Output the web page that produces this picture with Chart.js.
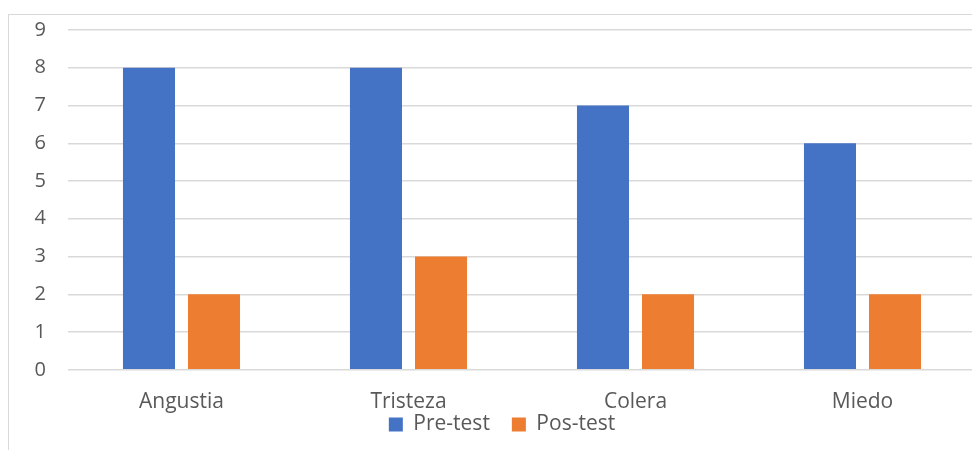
<!DOCTYPE html>
<html><head><meta charset="utf-8">
<script src="https://cdn.jsdelivr.net/npm/chart.js@4/dist/chart.umd.min.js"></script>
<style>
html,body{margin:0;padding:0;background:#fff;overflow:hidden;width:972px;height:450px;}
#frame{position:absolute;left:8px;top:14px;width:1000px;height:500px;border:1.5px solid #d9d9d9;box-sizing:border-box;}
#wrap{position:absolute;left:0;top:0;width:1004px;height:491px;}
</style></head>
<body>
<div id="frame"></div>
<div id="wrap"><canvas id="c" width="1004" height="491"></canvas></div>
<script>
const categories = ["Angustia", "Tristeza", "Colera", "Miedo"];
const preTest = [8, 8, 7, 6];
const posTest = [2, 3, 2, 2];
const seriesNames = ["Pre-test", "Pos-test"];

const txt = '#595959';
const font = "'Open Sans', sans-serif";
const legendShift = {
  id: 'legendShift',
  afterLayout(chart) {
    const l = chart.legend;
    if (l) { l.top -= 43; l.bottom -= 43; l.left += 14; l.right += 14; }
  }
};
new Chart(document.getElementById('c'), {
  type: 'bar',
  data: {
    labels: categories,
    datasets: [
      {label: seriesNames[0], data: preTest, backgroundColor: '#4472C4', barPercentage: 0.8, categoryPercentage: 0.573},
      {label: seriesNames[1], data: posTest, backgroundColor: '#ED7D31', barPercentage: 0.8, categoryPercentage: 0.573}
    ]
  },
  plugins: [legendShift],
  options: {
    responsive: false,
    animation: false,
    layout: {padding: {left: 0, right: 28, top: 30, bottom: 3}},
    plugins: {
      tooltip: {enabled: false},
      legend: {
        position: 'bottom',
        labels: {boxWidth: 14, boxHeight: 14, padding: 22, color: txt, font: {family: font, size: 21}}
      }
    },
    scales: {
      x: {
        grid: {display: false, drawTicks: false},
        border: {display: false},
        ticks: {color: txt, font: {family: font, size: 21}, padding: 20}
      },
      y: {
        min: 0, max: 9,
        afterFit: s => { s.width = 68; s.paddingTop = 0; },
        grid: {color: '#d9d9d9', lineWidth: 1.5, drawTicks: false},
        border: {display: false},
        ticks: {stepSize: 1, color: txt, font: {family: font, size: 20}, padding: 22}
      }
    }
  }
});
</script>
</body></html>
